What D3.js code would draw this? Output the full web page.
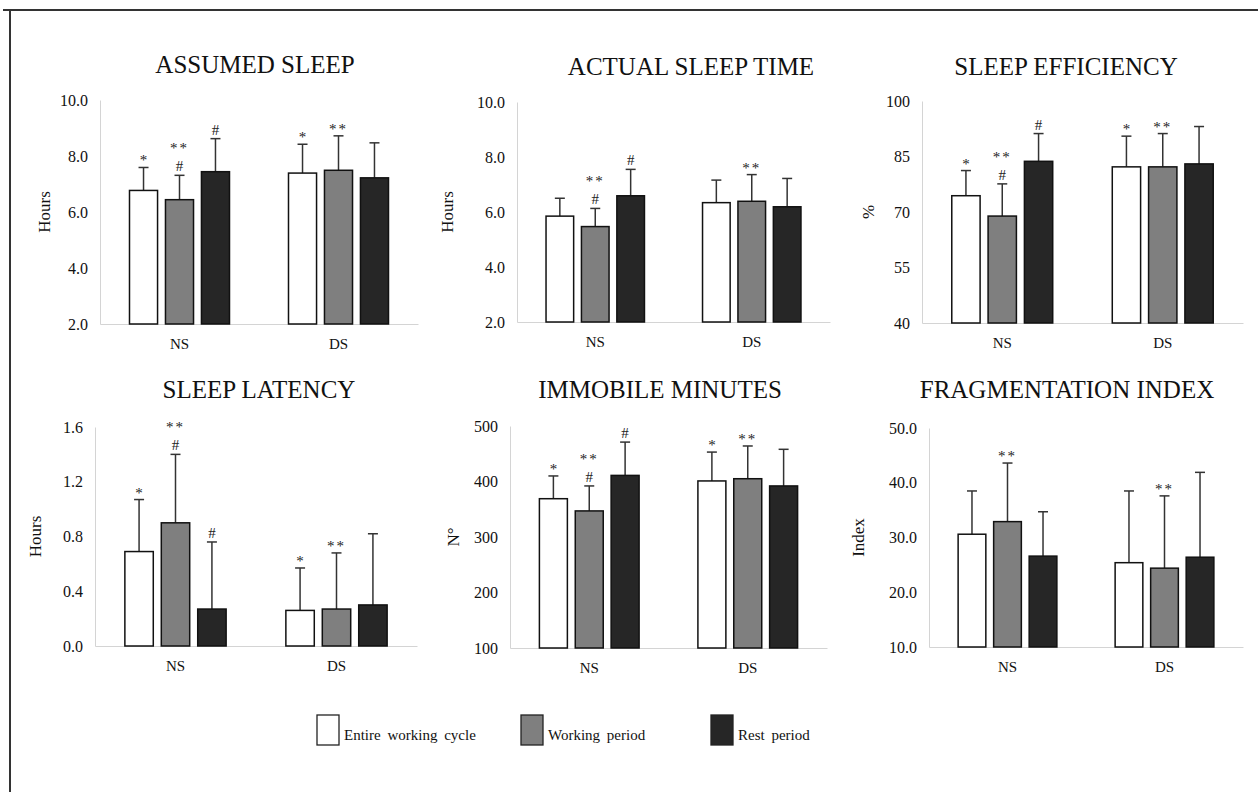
<!DOCTYPE html>
<html>
<head>
<meta charset="utf-8">
<script src="https://cdn.jsdelivr.net/npm/d3@7"></script>
<style>
  body { margin: 0; background: #fff; }
  svg { display: block; font-family: "Liberation Serif", "Times New Roman", serif; }
</style>
</head>
<body>
<svg id="chart" width="1258" height="792"></svg>
<script>
var groups = ["NS", "DS"];
var series = ["Entire working cycle", "Working period", "Rest period"];
var seriesColors = ["#ffffff", "#7f7f7f", "#262626"];

var titles = ["ASSUMED SLEEP", "ACTUAL SLEEP TIME", "SLEEP EFFICIENCY",
              "SLEEP LATENCY", "IMMOBILE MINUTES", "FRAGMENTATION INDEX"];
var yLabels = ["Hours", "Hours", "%", "Hours", "N°", "Index"];
var yDomains = [[2, 10], [2, 10], [40, 100], [0, 1.6], [100, 500], [10, 50]];
var yTicks = [[2, 4, 6, 8, 10], [2, 4, 6, 8, 10], [40, 55, 70, 85, 100],
              [0, 0.4, 0.8, 1.2, 1.6], [100, 200, 300, 400, 500], [10, 20, 30, 40, 50]];
var yFormats = [".1f", ".1f", "d", ".1f", "d", ".1f"];

// means: [NS, DS] x [entire, working, rest]
var assumedMean = [[6.77, 6.44, 7.44], [7.39, 7.49, 7.22]];
var assumedSD   = [[0.82, 0.87, 1.18], [1.03, 1.23, 1.25]];
var actualMean  = [[5.85, 5.47, 6.59], [6.34, 6.39, 6.19]];
var actualSD    = [[0.65, 0.66, 0.96], [0.82, 0.97, 1.03]];
var effMean     = [[74.4, 68.9, 83.7], [82.2, 82.2, 83.0]];
var effSD       = [[6.8, 8.7, 7.5], [8.3, 9.0, 10.1]];
var latMean     = [[0.69, 0.90, 0.27], [0.26, 0.27, 0.30]];
var latSD       = [[0.38, 0.50, 0.49], [0.31, 0.41, 0.52]];
var immMean     = [[369, 347, 411], [401, 405, 392]];
var immSD       = [[41, 45, 60], [52, 59, 66]];
var fragMean    = [[30.6, 32.9, 26.6], [25.4, 24.4, 26.4]];
var fragSD      = [[7.9, 10.7, 8.1], [13.1, 13.2, 15.5]];

// significance marks
var starsA = [["*", "**", ""], ["*", "**", ""]];
var starsB = [["", "**", ""], ["", "**", ""]];
var hashA  = [[0, 1, 1], [0, 0, 0]];
var hashNone = [[0, 0, 0], [0, 0, 0]];

var means = [assumedMean, actualMean, effMean, latMean, immMean, fragMean];
var sds = [assumedSD, actualSD, effSD, latSD, immSD, fragSD];
var stars = [starsA, starsB, starsA, starsA, starsA, starsB];
var hashes = [hashA, hashA, hashA, hashA, hashA, hashNone];

// panel placement
var panels = [
  {l: 100, t: 100, r: 418, b: 324, tx: 255, ty: 73, lx: 44},
  {l: 517, t: 102, r: 830, b: 322, tx: 691, ty: 75, lx: 447},
  {l: 922, t: 101, r: 1243, b: 323, tx: 1066, ty: 75, lx: 868},
  {l: 95, t: 427, r: 417, b: 646, tx: 259, ty: 398, lx: 35},
  {l: 510, t: 426, r: 827, b: 648, tx: 660, ty: 398, lx: 453},
  {l: 929, t: 428, r: 1243, b: 647, tx: 1067, ty: 398, lx: 858}
];

var svg = d3.select("#chart");

// frame
svg.append("line").attr("x1", 3).attr("x2", 1258).attr("y1", 10).attr("y2", 10)
  .attr("stroke", "#333").attr("stroke-width", 2);
svg.append("line").attr("x1", 10).attr("x2", 10).attr("y1", 10).attr("y2", 792)
  .attr("stroke", "#333").attr("stroke-width", 2);

panels.forEach(function(p, i) {
  var g = svg.append("g");
  var h = p.b - p.t;

  var x0 = d3.scaleBand().domain(groups).range([p.l, p.r]);
  var x1 = d3.scaleBand().domain(d3.range(3)).range([0, x0.bandwidth()])
    .paddingInner(0.22).paddingOuter(0.82);
  var y = d3.scaleLinear().domain(yDomains[i]).range([p.b, p.t]);

  // title
  g.append("text")
    .attr("x", p.tx).attr("y", p.ty)
    .attr("text-anchor", "middle")
    .attr("font-size", 25)
    .attr("fill", "#111")
    .text(titles[i]);

  // y label
  g.append("text")
    .attr("transform", "translate(" + p.lx + "," + (p.t + h / 2) + ") rotate(-90)")
    .attr("text-anchor", "middle")
    .attr("dy", "0.35em")
    .attr("font-size", 17)
    .attr("fill", "#111")
    .text(yLabels[i]);

  // axes
  var yAxis = g.append("g")
    .attr("transform", "translate(" + p.l + ",0)")
    .call(d3.axisLeft(y).tickValues(yTicks[i]).tickFormat(d3.format(yFormats[i]))
      .tickSize(0).tickPadding(12));
  yAxis.attr("font-family", null);
  yAxis.select(".domain").attr("stroke", "#d4d4d4");
  yAxis.selectAll("text").attr("font-size", 16).attr("fill", "#111");

  var xAxis = g.append("g")
    .attr("transform", "translate(0," + p.b + ")")
    .call(d3.axisBottom(x0).tickSize(0).tickPadding(14));
  xAxis.attr("font-family", null);
  xAxis.select(".domain").attr("stroke", "#d4d4d4");
  xAxis.selectAll("text").attr("font-size", 15).attr("fill", "#111");

  var rows = [];
  groups.forEach(function(gr, gi) {
    series.forEach(function(s, si) {
      rows.push({g: gr, s: si, m: means[i][gi][si], sd: sds[i][gi][si],
                 star: stars[i][gi][si], hash: hashes[i][gi][si]});
    });
  });

  var cap = 5;
  // error bars (drawn first, bar covers lower part)
  var eb = g.selectAll(".err").data(rows).enter().append("g").attr("class", "err");
  eb.append("line")
    .attr("x1", function(d) { return x0(d.g) + x1(d.s) + x1.bandwidth() / 2; })
    .attr("x2", function(d) { return x0(d.g) + x1(d.s) + x1.bandwidth() / 2; })
    .attr("y1", function(d) { return y(d.m); })
    .attr("y2", function(d) { return y(d.m + d.sd); })
    .attr("stroke", "#333").attr("stroke-width", 1.5);
  eb.append("line")
    .attr("x1", function(d) { return x0(d.g) + x1(d.s) + x1.bandwidth() / 2 - cap; })
    .attr("x2", function(d) { return x0(d.g) + x1(d.s) + x1.bandwidth() / 2 + cap; })
    .attr("y1", function(d) { return y(d.m + d.sd); })
    .attr("y2", function(d) { return y(d.m + d.sd); })
    .attr("stroke", "#333").attr("stroke-width", 1.5);

  g.selectAll(".bar").data(rows).enter().append("rect")
    .attr("class", "bar")
    .attr("x", function(d) { return x0(d.g) + x1(d.s); })
    .attr("y", function(d) { return y(d.m); })
    .attr("width", x1.bandwidth())
    .attr("height", function(d) { return p.b - y(d.m); })
    .attr("fill", function(d) { return seriesColors[d.s]; })
    .attr("stroke", "#111").attr("stroke-width", 1.5);

  // marks
  rows.forEach(function(d) {
    var cx = x0(d.g) + x1(d.s) + x1.bandwidth() / 2;
    var top = y(d.m + d.sd);
    var base = top - 2;
    if (d.hash) {
      g.append("text").attr("x", cx).attr("y", top - 4)
        .attr("text-anchor", "middle").attr("font-size", 15).attr("fill", "#222")
        .text("#");
      base = top - 22;
    }
    if (d.star) {
      g.append("text").attr("x", cx).attr("y", base)
        .attr("text-anchor", "middle").attr("font-size", 15).attr("fill", "#222")
        .attr("letter-spacing", d.star.length > 1 ? 2 : 0)
        .text(d.star);
    }
  });
});

// legend
var legend = svg.append("g");
var legX = [317, 521, 711];
series.forEach(function(s, si) {
  legend.append("rect")
    .attr("x", legX[si]).attr("y", 715)
    .attr("width", 22).attr("height", 30)
    .attr("fill", seriesColors[si])
    .attr("stroke", "#222").attr("stroke-width", 1.3);
  legend.append("text")
    .attr("x", legX[si] + 27).attr("y", 740)
    .attr("font-size", 15).attr("word-spacing", 3).attr("fill", "#111")
    .text(s);
});
</script>
</body>
</html>
